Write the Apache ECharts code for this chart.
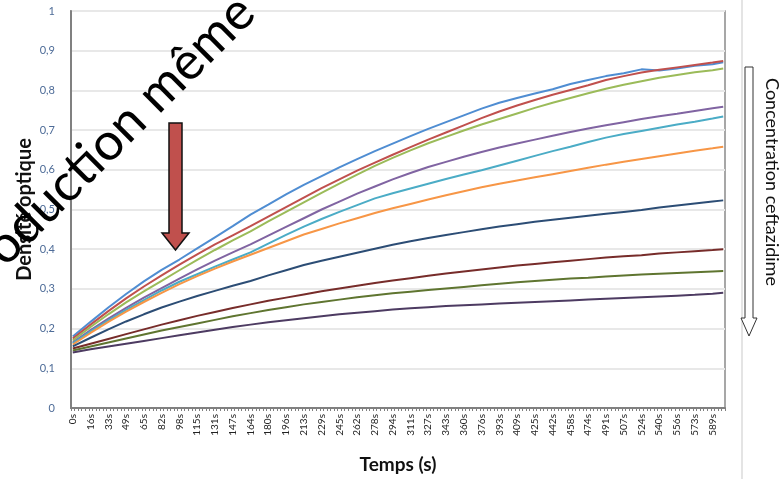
<!DOCTYPE html>
<html>
<head>
<meta charset="utf-8">
<script src="https://cdn.jsdelivr.net/npm/echarts@6/dist/echarts.min.js"></script>
<style>
  html, body { margin: 0; padding: 0; background: #ffffff; }
  #chart { width: 781px; height: 479px; }
</style>
</head>
<body>
<div id="chart"></div>
<script>
// Tick labels of the time axis (one every 5 acquisitions)
const timeLabels = ['0s','16s','33s','49s','65s','82s','98s','115s','131s','147s','164s','180s','196s',
  '213s','229s','245s','262s','278s','294s','311s','327s','343s','360s','376s','393s','409s','425s',
  '442s','458s','474s','491s','507s','524s','540s','556s','573s','589s'];
// Number of acquisitions on the axis, and where the last reading sits
const acquisitionCount = 184;
const lastReadingIndex = 183;
const labelEvery = 5;

const yTickLabels = ['0','0,1','0,2','0,3','0,4','0,5','0,6','0,7','0,8','0,9','1'];

// Optical density readings, one per labelled time, plus the final reading
const serie1 = [0.180,0.217,0.253,0.287,0.319,0.348,0.374,0.402,0.430,0.458,0.487,0.512,0.538,0.562,0.584,0.606,0.627,0.647,0.666,0.685,0.703,0.720,0.737,0.754,0.769,0.781,0.792,0.803,0.816,0.826,0.836,0.843,0.853,0.850,0.855,0.862,0.866,0.871];
const serie2 = [0.175,0.210,0.244,0.276,0.306,0.334,0.361,0.387,0.412,0.435,0.458,0.482,0.506,0.530,0.554,0.576,0.598,0.618,0.638,0.657,0.676,0.694,0.712,0.730,0.747,0.762,0.776,0.789,0.801,0.813,0.826,0.836,0.845,0.852,0.858,0.864,0.870,0.874];
const serie3 = [0.170,0.204,0.236,0.266,0.294,0.320,0.347,0.373,0.398,0.422,0.445,0.470,0.494,0.518,0.542,0.565,0.588,0.610,0.630,0.649,0.667,0.683,0.699,0.714,0.728,0.742,0.756,0.769,0.781,0.793,0.804,0.814,0.823,0.832,0.839,0.846,0.851,0.855];
const serie4 = [0.165,0.196,0.225,0.252,0.278,0.302,0.326,0.349,0.371,0.392,0.412,0.434,0.456,0.478,0.500,0.520,0.540,0.558,0.576,0.592,0.607,0.620,0.633,0.645,0.656,0.666,0.676,0.686,0.695,0.704,0.712,0.720,0.728,0.735,0.741,0.748,0.755,0.759];
const serie5 = [0.163,0.193,0.221,0.247,0.272,0.296,0.318,0.337,0.356,0.374,0.392,0.414,0.436,0.457,0.476,0.494,0.511,0.528,0.541,0.553,0.565,0.577,0.588,0.599,0.611,0.623,0.635,0.647,0.658,0.670,0.681,0.690,0.698,0.706,0.714,0.721,0.729,0.734];
const serie6 = [0.160,0.189,0.217,0.243,0.267,0.290,0.312,0.332,0.351,0.369,0.386,0.403,0.420,0.437,0.451,0.465,0.478,0.491,0.503,0.514,0.525,0.536,0.546,0.556,0.565,0.573,0.581,0.589,0.597,0.605,0.613,0.620,0.627,0.634,0.641,0.648,0.654,0.658];
const serie7 = [0.155,0.177,0.198,0.218,0.236,0.253,0.268,0.282,0.295,0.308,0.320,0.334,0.347,0.360,0.371,0.381,0.391,0.401,0.411,0.420,0.428,0.436,0.443,0.450,0.457,0.463,0.469,0.474,0.479,0.484,0.489,0.494,0.499,0.505,0.510,0.515,0.520,0.523];
const serie8 = [0.150,0.162,0.174,0.186,0.198,0.210,0.221,0.232,0.242,0.252,0.261,0.270,0.278,0.286,0.294,0.301,0.308,0.315,0.321,0.327,0.333,0.339,0.344,0.349,0.354,0.359,0.363,0.367,0.371,0.375,0.379,0.382,0.385,0.389,0.392,0.395,0.398,0.400];
const serie9 = [0.145,0.155,0.165,0.175,0.185,0.195,0.204,0.213,0.222,0.231,0.239,0.247,0.254,0.261,0.267,0.273,0.279,0.284,0.289,0.293,0.297,0.301,0.305,0.309,0.313,0.317,0.320,0.323,0.326,0.328,0.331,0.334,0.336,0.338,0.340,0.342,0.344,0.345];
const serie10 = [0.140,0.148,0.155,0.162,0.169,0.176,0.183,0.190,0.197,0.204,0.210,0.216,0.221,0.226,0.231,0.236,0.240,0.244,0.248,0.251,0.254,0.257,0.259,0.261,0.263,0.265,0.267,0.269,0.271,0.273,0.275,0.277,0.279,0.281,0.283,0.285,0.288,0.290];

const seriesValues = [serie1, serie2, serie3, serie4, serie5, serie6, serie7, serie8, serie9, serie10];
const seriesColors = ['#4f8dd2','#c0504d','#9bbb59','#8064a2','#4bacc6','#f79646','#2c4d75','#772c2a','#5f7530','#4d3b62'];

// Category axis: every acquisition, labelled one out of five
const categories = Array.from({ length: acquisitionCount }, (_, i) =>
  i % labelEvery === 0 && timeLabels[i / labelEvery] !== undefined ? timeLabels[i / labelEvery] : '');

function toPoints(values) {
  return values.map((v, j) => [j < timeLabels.length ? j * labelEvery : lastReadingIndex, v]);
}

const chart = echarts.init(document.getElementById('chart'), null, { renderer: 'canvas' });

const option = {
  backgroundColor: '#ffffff',
  animation: false,
  grid: {
    left: 71, top: 11, width: 654, height: 398,
    show: true, borderColor: '#8a8a8a', borderWidth: 1.5, backgroundColor: 'transparent'
  },
  xAxis: {
    type: 'category',
    data: categories,
    boundaryGap: true,
    name: 'Temps (s)',
    nameLocation: 'middle',
    nameGap: 47,
    nameMoveOverlap: false,
    nameTextStyle: { fontFamily: 'Lato', fontWeight: 'bold', fontSize: 19, color: '#111' },
    axisLine: { lineStyle: { color: '#808080', width: 2 } },
    axisTick: { show: true, interval: 0, length: 3, lineStyle: { color: '#808080', width: 1 } },
    axisLabel: {
      interval: labelEvery - 1, rotate: 90, margin: 6,
      fontFamily: 'Lato', fontSize: 10, color: '#222'
    },
    splitLine: { show: false }
  },
  yAxis: {
    type: 'value',
    min: 0, max: 1, interval: 0.1,
    name: 'Densité optique',
    nameLocation: 'middle',
    nameRotate: 90,
    nameGap: 36,
    nameMoveOverlap: false,
    nameTextStyle: { fontFamily: 'Lato', fontWeight: 'bold', fontSize: 20, color: '#111' },
    axisLine: { show: true, lineStyle: { color: '#808080', width: 2 } },
    axisTick: { show: false },
    axisLabel: {
      margin: 16, fontFamily: 'Lato', fontSize: 11, color: '#4e6c98',
      formatter: (v, i) => yTickLabels[i]
    },
    splitLine: { lineStyle: { color: '#e8e8e8', width: 2 } }
  },
  series: seriesValues.map((vals, k) => ({
    name: 'Série ' + (k + 1),
    type: 'line',
    data: toPoints(vals),
    showSymbol: false,
    symbol: 'none',
    lineStyle: { color: seriesColors[k], width: 2 },
    itemStyle: { color: seriesColors[k] },
    z: 2 + k
  })),
  graphic: [
    // thin separator on the right
    { type: 'rect', shape: { x: 741, y: 0, width: 2, height: 479 }, style: { fill: '#e4e4e4' }, z: 1 },
    // hollow arrow beside the legend caption
    {
      type: 'polygon', z: 5,
      shape: { points: [[745,67],[753,67],[753,318],[757,318],[749,336],[741,318],[745,318]] },
      style: { fill: '#ffffff', stroke: '#333333', lineWidth: 1 }
    },
    {
      type: 'text', z: 5, x: 772, y: 182, rotation: -Math.PI / 2,
      style: {
        text: 'Concentration ceftazidime', fontFamily: 'Lato', fontSize: 18, fill: '#111',
        align: 'center', verticalAlign: 'middle'
      }
    },
    // red downward arrow inside the plot
    {
      type: 'polygon', z: 20,
      shape: { points: [[169,123],[182,123],[182,233],[189,233],[175.5,250],[162,233],[169,233]] },
      style: { fill: '#c0504d', stroke: '#111111', lineWidth: 1.5 }
    },
    // diagonal watermark
    {
      type: 'text', z: 30, x: 246, y: 4, rotation: Math.PI / 4,
      style: {
        text: 'Reproduction même', fontFamily: 'Lato', fontSize: 52, fill: '#000000',
        align: 'right', verticalAlign: 'middle'
      }
    }
  ]
};

chart.setOption(option);
</script>
</body>
</html>
